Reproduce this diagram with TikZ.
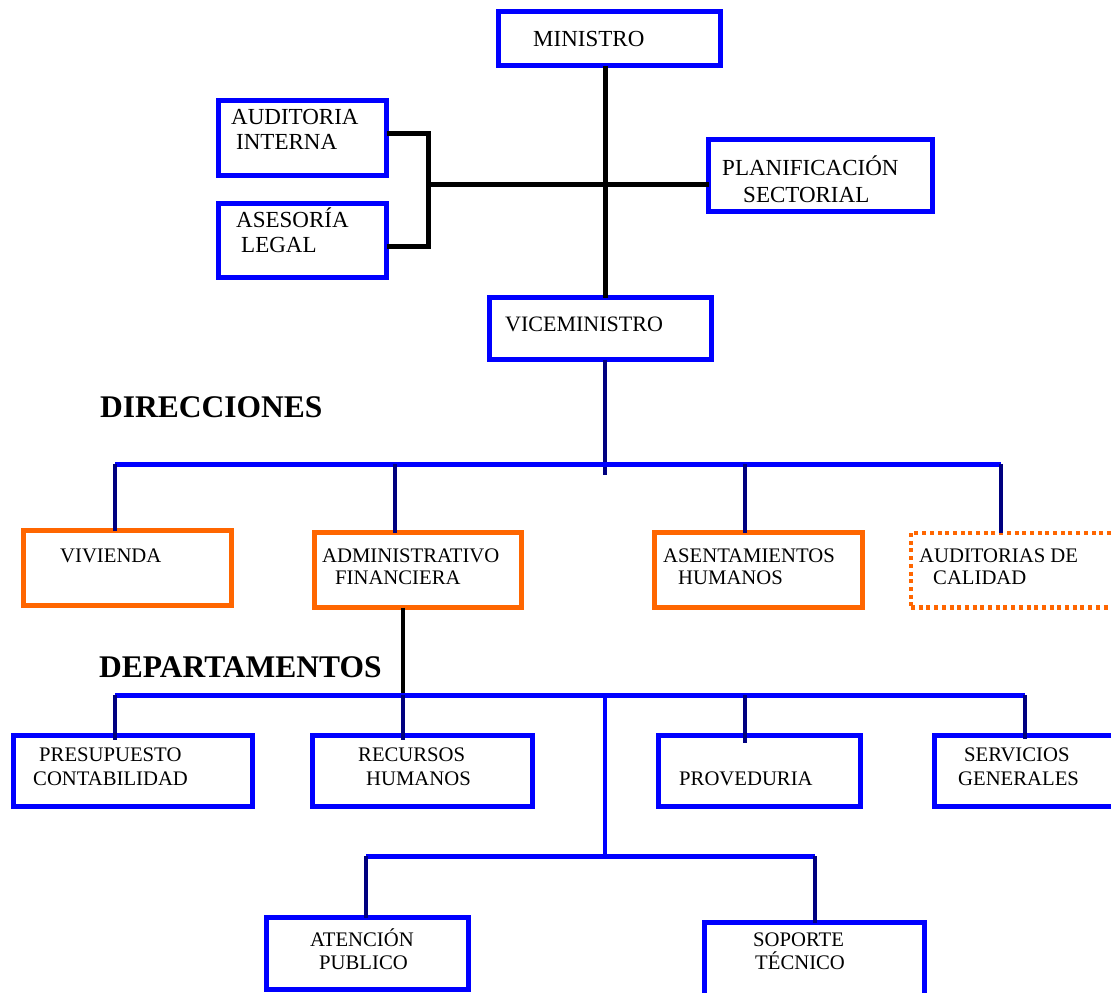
\documentclass[tikz,border=0pt]{standalone}
\usepackage{fontspec}
\setmainfont{Liberation Serif}
\definecolor{bblue}{RGB}{0,0,255}
\definecolor{borange}{RGB}{255,102,0}
\definecolor{bnavy}{RGB}{0,0,128}
\tikzset{
  bluebox/.style={draw=bblue, line width=5pt, rectangle, inner sep=0pt, outer sep=0pt},
  orangebox/.style={draw=borange, line width=5pt, rectangle, inner sep=0pt, outer sep=0pt},
  dotbox/.style={draw=borange, line width=4.5pt, dash pattern=on 4pt off 3.7pt, rectangle, inner sep=0pt, outer sep=0pt},
  blk/.style={draw=black, line width=5pt},
  busline/.style={draw=bblue, line width=5pt},
  bluev/.style={draw=bblue, line width=4pt},
  dropline/.style={draw=bnavy, line width=4pt},
  tA/.style={inner sep=0pt, anchor=base west, transform shape, scale=1.111, font=\fontsize{20.7}{24}\selectfont},
  tV/.style={inner sep=0pt, anchor=base west, transform shape, scale=1.063, font=\fontsize{20.7}{24}\selectfont},
  tB/.style={inner sep=0pt, anchor=base west, font=\fontsize{20.7}{24}\selectfont},
  head/.style={inner sep=0pt, anchor=base west, font=\bfseries\fontsize{31.5}{34}\selectfont},
}
\begin{document}
\begin{tikzpicture}[x=1pt,y=-1pt]
\useasboundingbox (0,0) rectangle (1111,993);
\clip (0,0) rectangle (1111,993);
\fill[white] (0,0) rectangle (1111,993);

% boxes
\node[bluebox, minimum width=222pt, minimum height=54pt] (min) at (609.5,38.5) {};
\node[bluebox, minimum width=168pt, minimum height=75pt] (aud) at (302.5,138) {};
\node[bluebox, minimum width=168pt, minimum height=74pt] (ase) at (302.5,240.5) {};
\node[bluebox, minimum width=224pt, minimum height=72pt] (plan) at (820.5,175.5) {};
\node[bluebox, minimum width=222pt, minimum height=62pt] (vice) at (600.5,328.5) {};

\node[orangebox, minimum width=208pt, minimum height=75pt] (viv) at (127.5,568) {};
\node[orangebox, minimum width=207pt, minimum height=75pt] (adm) at (418,570) {};
\node[orangebox, minimum width=208pt, minimum height=75pt] (asent) at (758.5,570) {};
\node[dotbox, minimum width=209pt, minimum height=74.5pt] (audcal) at (1015.5,570) {};

\node[bluebox, minimum width=239pt, minimum height=71pt] (pre) at (133,771) {};
\node[bluebox, minimum width=220pt, minimum height=71pt] (rec) at (422.5,771) {};
\node[bluebox, minimum width=202pt, minimum height=71pt] (prov) at (759.5,771) {};
\node[bluebox, minimum width=213pt, minimum height=71pt] (serv) at (1041,771) {};
\node[bluebox, minimum width=202pt, minimum height=72pt] (aten) at (367.5,953.5) {};
\node[bluebox, minimum width=220pt, minimum height=85pt] (sop) at (814.5,965) {};

% coordinates
\coordinate (tc) at (605,0);
\coordinate (br) at (428,184);
\coordinate (vend) at (605,475);
\coordinate (d1) at (115,464);
\coordinate (d2) at (395,464);
\coordinate (d3) at (745,464);
\coordinate (d4) at (1001,464);
\coordinate (k) at (403,700);
\coordinate (e1) at (115,695);
\coordinate (e2) at (403,695);
\coordinate (ec) at (605,695);
\coordinate (e3) at (745,695);
\coordinate (e4) at (1025,695);
\coordinate (f) at (605,856);
\coordinate (g1) at (366,856);
\coordinate (g2) at (815,856);

% top connectors (black)
\draw[blk] (min.south -| tc) -- (vice.north -| tc);
\draw[blk] ([yshift=5pt]aud.east) -| (br) |- ([yshift=-5.5pt]ase.east);
\draw[blk] (br) -- (plan.west |- br);

% direcciones
\draw[dropline] (vice.south -| vend) -- (vend);
\draw[busline] (d1) -- (d4);
\draw[dropline] (d1) -- (viv.north -| d1);
\draw[dropline] (d2) -- (adm.north -| d2);
\draw[dropline] (d3) -- (asent.north -| d3);
\draw[dropline] (d4) -- (audcal.north -| d4);

% departamentos
\draw[blk, line width=4.5pt] (adm.south -| k) -- (k);
\draw[busline] (e1) -- (e4);
\draw[dropline] (e1) -- ([yshift=-4pt]pre.north -| e1);
\draw[dropline] (e2) -- ([yshift=-4pt]rec.north -| e2);
\draw[dropline] (e3) -- ([yshift=-7pt]prov.north -| e3);
\draw[dropline] (e4) -- ([yshift=-3pt]serv.north -| e4);
\draw[bluev] (ec) -- (f);
\draw[busline] (g1) -- (g2);
\draw[dropline] (g1) -- (aten.north -| g1);
\draw[dropline] (g2) -- (sop.north -| g2);

% texts
\node[tA] (tmin) at (533,46) {MINISTRO};
\node[tA] (taud1) at (231,124.3) {AUDITORIA};
\node[tA] (taud2) at (236,149.6) {INTERNA};
\node[tA] (tase1) at (236,227) {ASESORÍA};
\node[tA] (tase2) at (241,252.6) {LEGAL};
\node[tA] (tplan1) at (722,175.6) {PLANIFICACIÓN};
\node[tA] (tplan2) at (743,202.6) {SECTORIAL};
\node[tV] (tvice) at (505,331.3) {VICEMINISTRO};

\node[head] (hdir) at (100,417) {DIRECCIONES};
\node[head] (hdep) at (99,677) {DEPARTAMENTOS};

\node[tB] (tviv) at (60,562.7) {VIVIENDA};
\node[tB] (tadm1) at (322,562.7) {ADMINISTRATIVO};
\node[tB] (tadm2) at (335,584.2) {FINANCIERA};
\node[tB] (tasent1) at (663,562.7) {ASENTAMIENTOS};
\node[tB] (tasent2) at (678,584.2) {HUMANOS};
\node[tB] (tcal1) at (919,562.7) {AUDITORIAS DE};
\node[tB] (tcal2) at (933,584.2) {CALIDAD};

\node[tB] (tpre1) at (39,761.8) {PRESUPUESTO};
\node[tB] (tpre2) at (33,785.3) {CONTABILIDAD};
\node[tB] (trec1) at (358,761.8) {RECURSOS};
\node[tB] (trec2) at (366,785.3) {HUMANOS};
\node[tB] (tprov) at (679,785.3) {PROVEDURIA};
\node[tB] (tserv1) at (964,761.8) {SERVICIOS};
\node[tB] (tserv2) at (958,785.3) {GENERALES};
\node[tB] (taten1) at (310,946.8) {ATENCIÓN};
\node[tB] (taten2) at (319,969.3) {PUBLICO};
\node[tB] (tsop1) at (753,946.8) {SOPORTE};
\node[tB] (tsop2) at (755,969.3) {TÉCNICO};
\end{tikzpicture}
\end{document}
